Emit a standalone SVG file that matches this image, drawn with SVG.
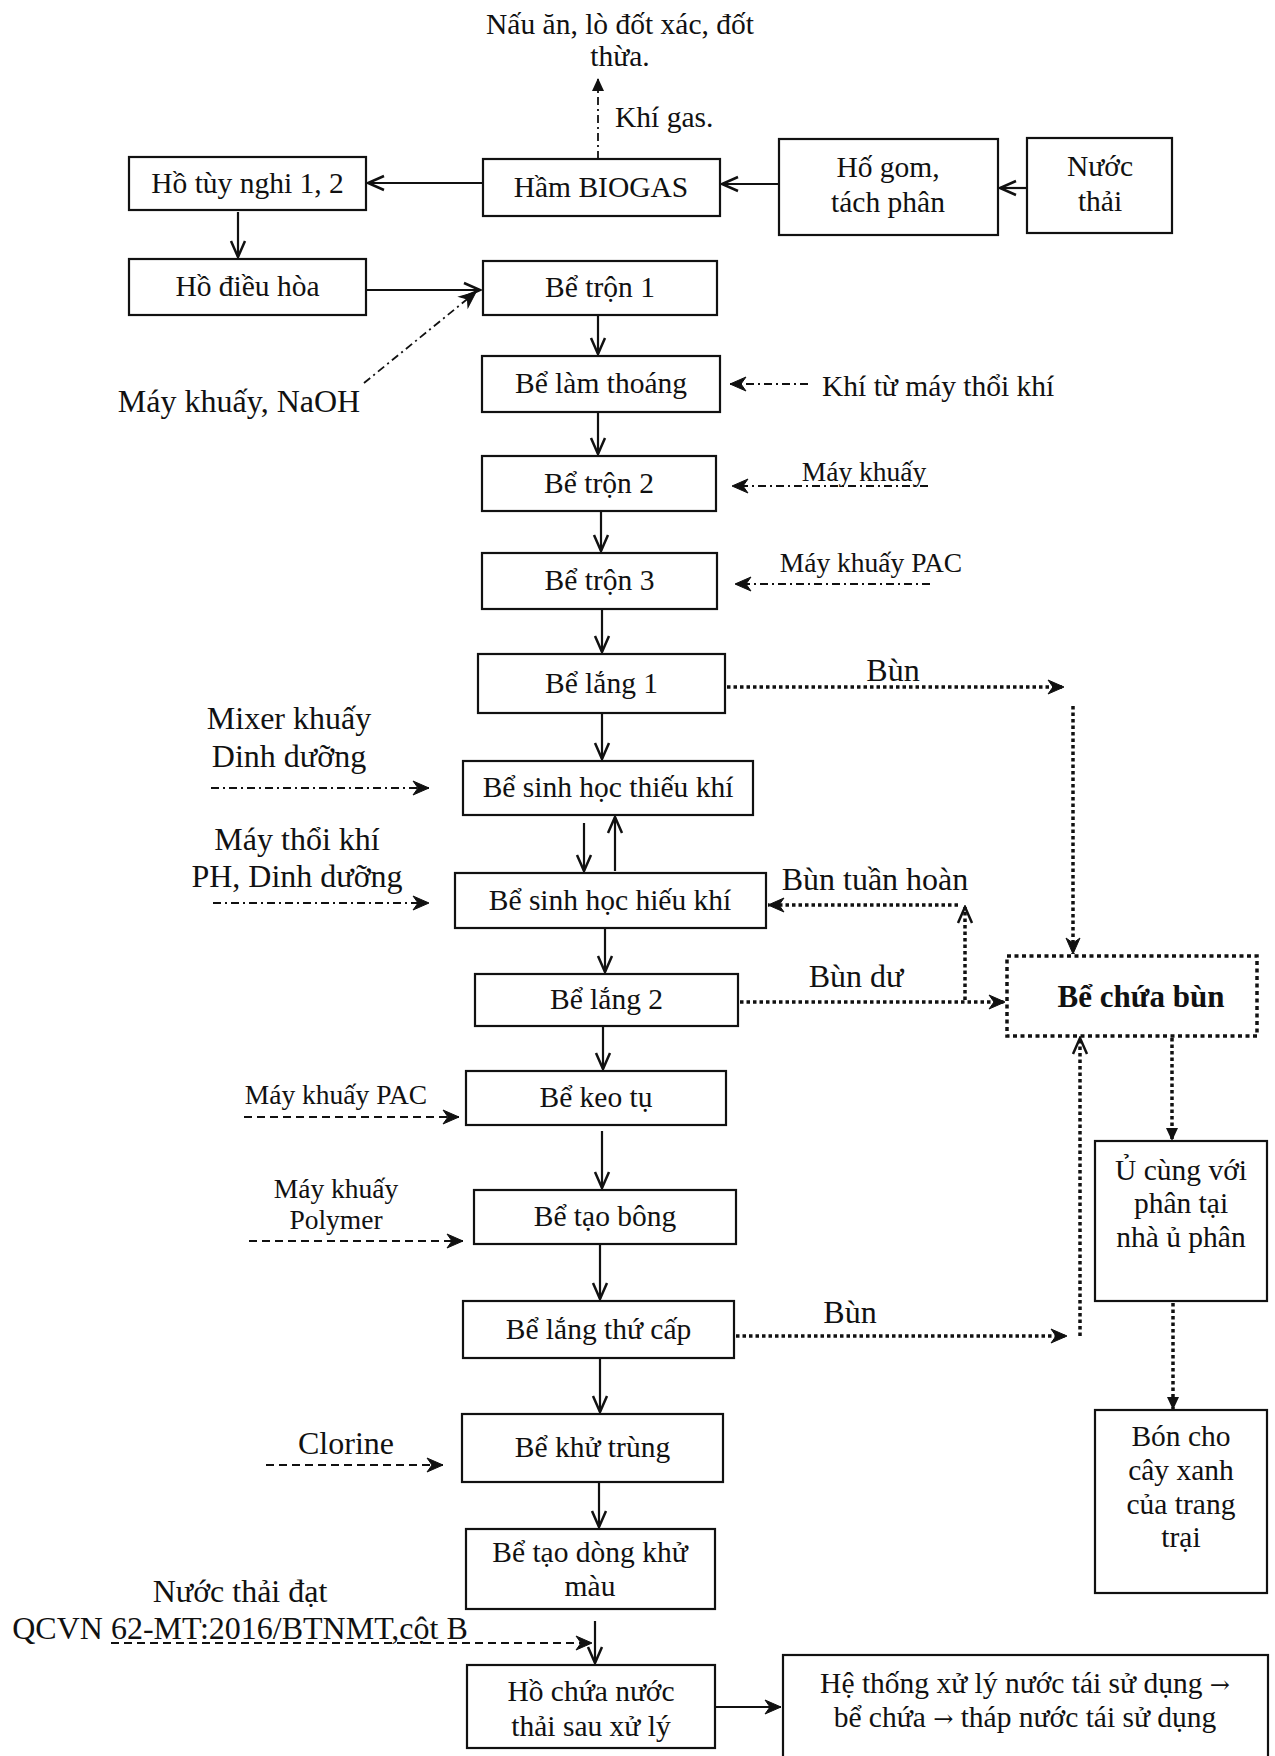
<svg xmlns="http://www.w3.org/2000/svg" width="1275" height="1756" viewBox="0 0 1275 1756">
<style>
text{font-family:"Liberation Serif","DejaVu Serif",serif;font-size:29.5px;fill:#111;text-anchor:middle}
text.sm{font-size:27.5px}
text.lg{font-size:32px}
text.st{text-anchor:start}
text.b{font-weight:bold;font-size:31px}
tspan.ar{font-family:"DejaVu Serif",serif;font-size:24px}
.box{fill:#fff;stroke:#111;stroke-width:2.2}
.dbox{fill:#fff;stroke:#111;stroke-width:3.5;stroke-dasharray:4 3.5}
.s{fill:none;stroke:#111;stroke-width:2.2}
.dd{fill:none;stroke:#111;stroke-width:1.8;stroke-dasharray:8 4 2 4}
.da{fill:none;stroke:#111;stroke-width:2;stroke-dasharray:8 5}
.dt{fill:none;stroke:#111;stroke-width:3.5;stroke-dasharray:3.5 3}
</style>
<defs>
<marker id="vee" viewBox="-18 -10 20 20" refX="0" refY="0" markerWidth="20" markerHeight="20" markerUnits="userSpaceOnUse" orient="auto">
<path d="M-16,-7 L0,0 L-16,7" fill="none" stroke="#111" stroke-width="2.5" stroke-linejoin="miter"/>
</marker>
<marker id="stl" viewBox="-18 -9 20 18" refX="0" refY="0" markerWidth="20" markerHeight="18" markerUnits="userSpaceOnUse" orient="auto">
<path d="M-16,-7 L0,0 L-16,7 L-11,0 Z" fill="#111" stroke="#111" stroke-width="1"/>
</marker>
<marker id="tri" viewBox="-14 -8 16 16" refX="0" refY="0" markerWidth="16" markerHeight="16" markerUnits="userSpaceOnUse" orient="auto">
<path d="M-13,-6 L0,0 L-13,6 Z" fill="#111"/>
</marker>
</defs>

<g id="connectors">
<path class="s" d="M1027,188 L1000,188" marker-end="url(#vee)"/>
<path class="s" d="M779,184 L722,184" marker-end="url(#vee)"/>
<path class="s" d="M483,183 L368,183" marker-end="url(#vee)"/>
<path class="s" d="M238,212 L238,257" marker-end="url(#vee)"/>
<path class="s" d="M366,290 L480,290" marker-end="url(#vee)"/>
<path class="s" d="M598,315 L598,354" marker-end="url(#vee)"/>
<path class="s" d="M598,412 L598,454" marker-end="url(#vee)"/>
<path class="s" d="M601,511 L601,551" marker-end="url(#vee)"/>
<path class="s" d="M602,609 L602,652" marker-end="url(#vee)"/>
<path class="s" d="M602,713 L602,759" marker-end="url(#vee)"/>
<path class="s" d="M584,823 L584,871" marker-end="url(#vee)"/>
<path class="s" d="M615,871 L615,817" marker-end="url(#vee)"/>
<path class="s" d="M605,928 L605,972" marker-end="url(#vee)"/>
<path class="s" d="M603,1026 L603,1069" marker-end="url(#vee)"/>
<path class="s" d="M602,1131 L602,1188" marker-end="url(#vee)"/>
<path class="s" d="M600,1244 L600,1299" marker-end="url(#vee)"/>
<path class="s" d="M600,1358 L600,1412" marker-end="url(#vee)"/>
<path class="s" d="M599,1482 L599,1527" marker-end="url(#vee)"/>
<path class="s" d="M595,1621 L595,1663" marker-end="url(#vee)"/>
<path class="s" d="M716,1707 L781,1707" marker-end="url(#stl)"/>

<path class="dd" d="M598,159 L598,78" marker-end="url(#tri)"/>
<path class="dd" d="M364,383 L476,292" marker-end="url(#stl)"/>
<path class="dd" d="M808,384 L730,384" marker-end="url(#stl)"/>
<path class="dd" d="M928,486 L732,486" marker-end="url(#stl)"/>
<path class="dd" d="M930,584 L735,584" marker-end="url(#stl)"/>
<path class="dd" d="M211,788 L429,788" marker-end="url(#stl)"/>
<path class="dd" d="M213,903 L429,903" marker-end="url(#stl)"/>

<path class="da" d="M244,1117 L459,1117" marker-end="url(#stl)"/>
<path class="da" d="M249,1241 L463,1241" marker-end="url(#stl)"/>
<path class="da" d="M266,1465 L443,1465" marker-end="url(#stl)"/>
<path class="da" d="M111,1643 L592,1643" marker-end="url(#stl)"/>

<path class="dt" d="M727,687 L1064,687" marker-end="url(#stl)"/>
<path class="dt" d="M1073,706 L1073,954" marker-end="url(#stl)"/>
<path class="dt" d="M740,1002 L1005,1002" marker-end="url(#stl)"/>
<path class="dt" d="M965,1000 L965,907" marker-end="url(#vee)"/>
<path class="dt" d="M958,905 L768,905" marker-end="url(#stl)"/>
<path class="dt" d="M736,1336 L1067,1336" marker-end="url(#stl)"/>
<path class="dt" d="M1080,1336 L1080,1038" marker-end="url(#vee)"/>
<path class="dt" d="M1172,1038 L1172,1141" marker-end="url(#tri)"/>
<path class="dt" d="M1173,1303 L1173,1410" marker-end="url(#tri)"/>
</g>

<g id="labels">
<text x="620" y="34">Nấu ăn, lò đốt xác, đốt</text>
<text x="620" y="66">thừa.</text>
<text class="st" x="615" y="127">Khí gas.</text>
<text class="lg" x="239" y="412">Máy khuấy, NaOH</text>
<text class="st" x="822" y="396">Khí từ máy thổi khí</text>
<text class="sm" x="864" y="481">Máy khuấy</text>
<text class="sm" x="871" y="572">Máy khuấy PAC</text>
<text class="lg" x="893" y="681">Bùn</text>
<text class="lg" x="289" y="729">Mixer khuấy</text>
<text class="lg" x="289" y="767">Dinh dưỡng</text>
<text class="lg" x="297" y="850">Máy thổi khí</text>
<text class="lg" x="297" y="887">PH, Dinh dưỡng</text>
<text class="lg" x="875" y="890">Bùn tuần hoàn</text>
<text class="lg" x="856" y="987">Bùn dư</text>
<text class="sm" x="336" y="1104">Máy khuấy PAC</text>
<text class="sm" x="336" y="1198">Máy khuấy</text>
<text class="sm" x="336" y="1229">Polymer</text>
<text class="lg" x="850" y="1323">Bùn</text>
<text class="lg" x="346" y="1454">Clorine</text>
<text class="lg" x="240" y="1602">Nước thải đạt</text>
<text class="lg" x="240" y="1639">QCVN 62-MT:2016/BTNMT,cột B</text>
</g>

<g id="n_ho_tuy_nghi"><rect class="box" x="129" y="157" width="237" height="53"/><text x="247.5" y="193">Hồ tùy nghi 1, 2</text></g>
<g id="n_ho_dieu_hoa"><rect class="box" x="129" y="259" width="237" height="56"/><text x="247.5" y="296">Hồ điều hòa</text></g>
<g id="n_ham_biogas"><rect class="box" x="483" y="159" width="237" height="57"/><text x="601" y="197">Hầm BIOGAS</text></g>
<g id="n_ho_gom"><rect class="box" x="779" y="139" width="219" height="96"/><text x="888" y="177">Hố gom,</text><text x="888" y="212">tách phân</text></g>
<g id="n_nuoc_thai"><rect class="box" x="1027" y="138" width="145" height="95"/><text x="1100" y="176">Nước</text><text x="1100" y="211">thải</text></g>
<g id="n_be_tron_1"><rect class="box" x="483" y="261" width="234" height="54"/><text x="600" y="297">Bể trộn 1</text></g>
<g id="n_be_lam_thoang"><rect class="box" x="482" y="356" width="238" height="56"/><text x="601" y="393">Bể làm thoáng</text></g>
<g id="n_be_tron_2"><rect class="box" x="482" y="456" width="234" height="55"/><text x="599" y="493">Bể trộn 2</text></g>
<g id="n_be_tron_3"><rect class="box" x="482" y="553" width="235" height="56"/><text x="599.5" y="590">Bể trộn 3</text></g>
<g id="n_be_lang_1"><rect class="box" x="478" y="654" width="247" height="59"/><text x="601.5" y="693">Bể lắng 1</text></g>
<g id="n_thieu_khi"><rect class="box" x="463" y="761" width="290" height="54"/><text x="608" y="797">Bể sinh học thiếu khí</text></g>
<g id="n_hieu_khi"><rect class="box" x="455" y="873" width="311" height="55"/><text x="610" y="910">Bể sinh học hiếu khí</text></g>
<g id="n_be_lang_2"><rect class="box" x="475" y="974" width="263" height="52"/><text x="606.5" y="1009">Bể lắng 2</text></g>
<g id="n_be_chua_bun"><rect class="dbox" x="1007" y="956" width="250" height="80"/><text class="b" x="1141" y="1007">Bể chứa bùn</text></g>
<g id="n_be_keo_tu"><rect class="box" x="466" y="1071" width="260" height="54"/><text x="596" y="1107">Bể keo tụ</text></g>
<g id="n_be_tao_bong"><rect class="box" x="474" y="1190" width="262" height="54"/><text x="605" y="1226">Bể tạo bông</text></g>
<g id="n_be_lang_thu_cap"><rect class="box" x="463" y="1301" width="271" height="57"/><text x="598.5" y="1339">Bể lắng thứ cấp</text></g>
<g id="n_u_cung"><rect class="box" x="1095" y="1141" width="172" height="160"/><text x="1181" y="1180">Ủ cùng với</text><text x="1181" y="1213">phân tại</text><text x="1181" y="1247">nhà ủ phân</text></g>
<g id="n_bon_cho"><rect class="box" x="1095" y="1410" width="172" height="183"/><text x="1181" y="1446">Bón cho</text><text x="1181" y="1480">cây xanh</text><text x="1181" y="1514">của trang</text><text x="1181" y="1547">trại</text></g>
<g id="n_be_khu_trung"><rect class="box" x="462" y="1414" width="261" height="68"/><text x="592.5" y="1457">Bể khử trùng</text></g>
<g id="n_be_tao_dong"><rect class="box" x="466" y="1529" width="249" height="80"/><text x="590" y="1562">Bể tạo dòng khử</text><text x="590" y="1596">màu</text></g>
<g id="n_ho_chua"><rect class="box" x="467" y="1665" width="248" height="83"/><text x="591" y="1701">Hồ chứa nước</text><text x="591" y="1736">thải sau xử lý</text></g>
<g id="n_he_thong"><rect class="box" x="783" y="1655" width="485" height="110"/><text x="1025" y="1693">Hệ thống xử lý nước tái sử dụng <tspan class="ar">→</tspan></text><text x="1025" y="1727">bể chứa <tspan class="ar">→</tspan> tháp nước tái sử dụng</text></g>
</svg>
